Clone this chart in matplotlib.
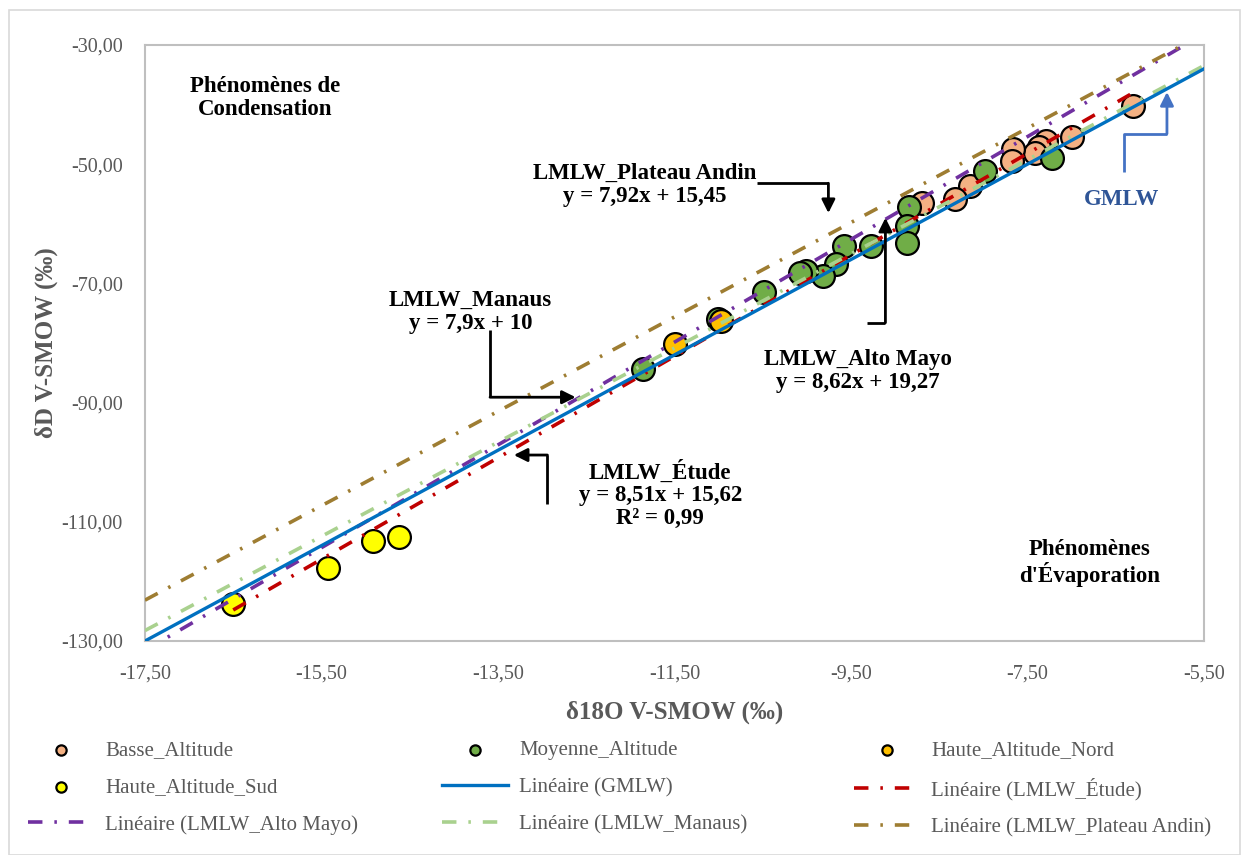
import numpy as np
import matplotlib
matplotlib.use("Agg")
import matplotlib.pyplot as plt
from matplotlib.patches import Rectangle
from matplotlib.ticker import FuncFormatter

plt.rcParams['font.family'] = ['Liberation Serif', 'DejaVu Serif']

# --- data ---
basse_x = [-6.31, -7.00, -7.29, -7.37, -7.42, -7.67, -7.68, -8.15, -8.32, -8.69]
basse_y = [-40.2, -45.4, -46.1, -47.1, -48.1, -47.4, -49.5, -53.7, -55.8, -56.5]

moyenne_x = [-7.22, -7.98, -8.84, -8.87, -8.87, -9.27, -9.58, -9.67, -9.82,
             -10.01, -10.08, -10.49, -11.01, -11.86]
moyenne_y = [-49.0, -51.1, -57.2, -60.4, -63.2, -63.7, -63.7, -66.7, -68.8,
             -67.9, -68.3, -71.4, -76.0, -84.4]

nord_x = [-11.49, -10.97]
nord_y = [-80.2, -76.3]

sud_x = [-16.50, -15.43, -14.92, -14.62]
sud_y = [-123.8, -117.8, -113.2, -112.5]

# (slope, intercept) of each meteoric water line
gmlw = (8.0, 10.0)
etude = (8.51, 15.62)
alto_mayo = (8.62, 19.27)
manaus = (7.9, 10.0)
plateau = (7.92, 15.45)

x_ticks = [-17.5, -15.5, -13.5, -11.5, -9.5, -7.5, -5.5]
y_ticks = [-130, -110, -90, -70, -50, -30]

GRAY = '#595959'

fig = plt.figure(figsize=(12.41, 8.55), dpi=100)
fig.patches.append(Rectangle((0.007, 0.0), 0.992, 0.988, transform=fig.transFigure,
                             fill=False, edgecolor='#D9D9D9', lw=1.2))
ax = fig.add_axes([0.1168, 0.2503, 0.8534, 0.6971])

xmin, xmax = -17.5, -5.5
ymin, ymax = -130, -30
ax.set_xlim(xmin, xmax)
ax.set_ylim(ymin, ymax)

mk = dict(s=270, edgecolors='black', linewidths=1.6, zorder=3)
h_basse = ax.scatter(basse_x, basse_y, color='#F4B183', label='Basse_Altitude', **mk)
h_moy = ax.scatter(moyenne_x, moyenne_y, color='#70AD47', label='Moyenne_Altitude', **mk)
h_nord = ax.scatter(nord_x, nord_y, color='#FFC000', label='Haute_Altitude_Nord', **mk)
h_sud = ax.scatter(sud_x, sud_y, color='#FFFF00', label='Haute_Altitude_Sud', **mk)

xs = np.linspace(xmin, xmax, 200)
all_x = basse_x + moyenne_x + nord_x + sud_x
xe = np.linspace(min(all_x), max(all_x), 200)
dd = (4.0, 3.3, 0.7, 3.3)

h_g, = ax.plot(xs, gmlw[0] * xs + gmlw[1], color='#0070C0', lw=2.4,
               label='Linéaire (GMLW)', zorder=5)
h_e, = ax.plot(xe, etude[0] * xe + etude[1], color='#C00000', lw=2.6, dashes=dd,
               label='Linéaire (LMLW_Étude)', zorder=4)
h_a, = ax.plot(xs, alto_mayo[0] * xs + alto_mayo[1], color='#7030A0', lw=2.6, dashes=dd,
               label='Linéaire (LMLW_Alto Mayo)', zorder=4)
h_m, = ax.plot(xs, manaus[0] * xs + manaus[1], color='#A9D18E', lw=2.6, dashes=dd,
               label='Linéaire (LMLW_Manaus)', zorder=4)
h_p, = ax.plot(xs, plateau[0] * xs + plateau[1], color='#9E7D32', lw=2.6, dashes=dd,
               label='Linéaire (LMLW_Plateau Andin)', zorder=4)

# axes styling
for sp in ax.spines.values():
    sp.set_color('#BFBFBF')
    sp.set_linewidth(1.5)
ax.set_xticks(x_ticks)
ax.set_yticks(y_ticks)
fmt = FuncFormatter(lambda v, p: f"{v:.2f}".replace('.', ','))
ax.xaxis.set_major_formatter(fmt)
ax.yaxis.set_major_formatter(fmt)
ax.tick_params(length=0, labelsize=14.5, labelcolor=GRAY)
ax.tick_params(axis='x', pad=17)
ax.tick_params(axis='y', pad=16)

ax.set_xlabel('δ18O V-SMOW (‰)', fontsize=18, fontweight='bold', color=GRAY, labelpad=12)
ax.set_ylabel('δD V-SMOW (‰)', fontsize=18, fontweight='bold', color=GRAY, labelpad=2)

# annotations
tb = dict(fontsize=16.5, fontweight='bold', ha='center', va='center', linespacing=1.1,
          color='black', zorder=6)
ax.text(-16.14, -38.9, 'Phénomènes de\nCondensation', **tb)
ax.text(-6.80, -116.9, "Phénomènes\nd'Évaporation", **tb)
ax.text(-11.84, -53.5, 'LMLW_Plateau Andin\ny = 7,92x + 15,45', **tb)
ax.text(-13.81, -74.8, 'LMLW_Manaus\ny = 7,9x + 10', **tb)
ax.text(-9.42, -84.7, 'LMLW_Alto Mayo\ny = 8,62x + 19,27', **tb)
ax.text(-11.66, -105.4, 'LMLW_Étude\ny = 8,51x + 15,62\nR² = 0,99', **tb)
ax.text(-6.43, -56.0, 'GMLW', fontsize=16.5, fontweight='bold', ha='center', va='center',
        color='#2F5597', zorder=6)


def elbow(points, color='black'):
    px = [p[0] for p in points]
    py = [p[1] for p in points]
    ax.plot(px[:-1], py[:-1], color=color, lw=2, zorder=6, solid_capstyle='butt')
    ax.annotate('', xy=points[-1], xytext=points[-2],
                arrowprops=dict(arrowstyle='-|>,head_length=0.8,head_width=0.4',
                                color=color, lw=2, shrinkA=0, shrinkB=0),
                zorder=6)


elbow([(-10.56, -53.2), (-9.756, -53.2), (-9.756, -58.2)])
elbow([(-13.59, -77.8), (-13.59, -89.1), (-12.62, -89.1)])
elbow([(-9.315, -76.6), (-9.11, -76.6), (-9.11, -59.0)])
elbow([(-12.94, -107.0), (-12.94, -98.8), (-13.32, -98.8)])
elbow([(-6.405, -51.3), (-6.405, -44.9), (-5.92, -44.9), (-5.92, -37.9)], color='#4472C4')

# legend: three single-column legends placed like the reference columns
columns = [[h_basse, h_sud, h_a], [h_moy, h_g, h_m], [h_nord, h_e, h_p]]
col_x = [0.0226, 0.356, 0.688]
for hs, cx in zip(columns, col_x):
    leg = fig.legend(handles=hs, labels=[h.get_label() for h in hs],
                     loc='upper left', bbox_to_anchor=(cx, 0.134), borderpad=0,
                     borderaxespad=0, frameon=False, fontsize=15, markerscale=0.45,
                     handlelength=3.2, handletextpad=0.5, labelspacing=0.85)
    for t in leg.get_texts():
        t.set_color(GRAY)

fig.savefig('out.png', dpi=100)
